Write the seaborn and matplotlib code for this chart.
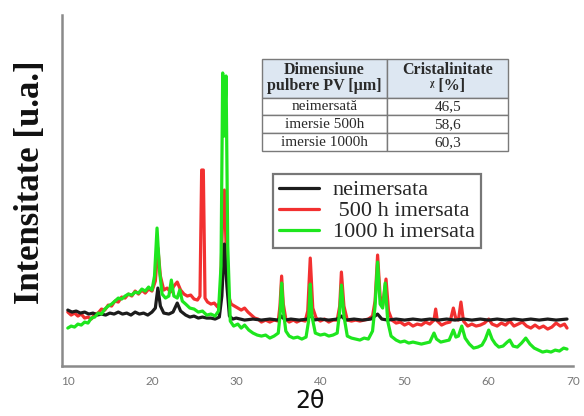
import matplotlib
matplotlib.use("Agg")
import matplotlib.pyplot as plt
import seaborn as sns
import pandas as pd

# --- XRD patterns (2-theta in degrees, intensity in arbitrary units) ---
theta_neimersata = [10, 10.5, 11, 11.5, 12, 12.5, 13, 13.5, 14, 14.5, 15, 15.5, 16, 16.5, 17, 17.5,
                    18, 18.5, 19, 19.5, 20, 20.4, 20.7, 21.0, 21.4, 22, 22.5, 23, 23.4, 24, 24.5, 25,
                    25.5, 26, 26.5, 27, 27.5, 28, 28.3, 28.6, 28.9, 29.2, 29.6, 30, 31, 32, 33, 34, 35,
                    35.4, 35.8, 36.5, 37.5, 38.5, 38.8, 39.2, 40, 41, 42, 42.5, 43, 44, 45, 46, 46.8,
                    47.3, 48, 49, 50, 51, 52, 53, 54, 55, 56, 57, 58, 59, 60, 61, 62, 63, 64, 65, 66,
                    67, 68, 69.3]
int_neimersata = [56, 54, 55, 53, 54, 52, 53, 51, 52, 51, 53, 52, 54, 52, 53, 51,
                  54, 52, 53, 51, 54, 58, 78, 60, 53, 52, 54, 63, 55, 51, 49, 50,
                  48, 49, 48, 48, 47, 49, 70, 122, 80, 50, 47, 48, 46, 47, 46, 47, 46,
                  50, 46, 47, 46, 47, 52, 46, 47, 46, 47, 50, 46, 47, 46, 47, 52,
                  47, 46, 47, 46, 47, 46, 47, 46, 47, 46, 47, 46, 47, 46, 47, 46, 47, 46, 47, 46,
                  47, 46, 47]

theta_500h = [10, 10.4, 10.8, 11.2, 11.6, 12, 12.4, 12.8, 13.2, 13.6, 14, 14.4, 14.8, 15.2, 15.6, 16,
              16.4, 16.8, 17.2, 17.6, 18, 18.4, 18.8, 19.2, 19.6, 20.0, 20.4, 20.7, 21.0, 21.4, 21.8,
              22.2, 22.6, 23.0, 23.4, 23.8, 24.2, 24.6, 25, 25.4, 25.7, 25.9, 26.1, 26.3, 26.6, 27,
              27.4, 27.8, 28.1, 28.4, 28.6, 28.8, 29.1, 29.4, 29.8, 30.2, 30.6, 31.0, 31.4, 31.8,
              32.2, 32.6, 33, 33.5, 34, 34.5, 35, 35.2, 35.4, 35.6, 35.9, 36.3, 36.8, 37.2, 37.7,
              38.2, 38.5, 38.8, 39.1, 39.5, 40, 40.5, 41, 41.5, 42, 42.3, 42.5, 42.8, 43.2, 43.7,
              44.2, 44.7, 45.2, 45.7, 46.2, 46.5, 46.8, 47.1, 47.4, 47.8, 48.1, 48.5, 49, 49.5, 50,
              50.5, 51, 51.5, 52, 52.5, 53, 53.5, 53.7, 53.9, 54.4, 54.9, 55.4, 55.8, 56.1, 56.4,
              56.7, 57.0, 57.5, 58, 58.5, 59, 59.5, 60, 60.4, 61, 61.5, 62, 62.5, 63, 63.5, 64,
              64.5, 65, 65.5, 66, 66.5, 67, 67.5, 68, 68.5, 69, 69.3]
int_500h = [54, 51, 53, 50, 52, 48, 49, 47, 52, 53, 57, 56, 61, 60, 65, 64,
            69, 68, 72, 70, 75, 72, 76, 73, 77, 75, 85, 118, 90, 76, 78,
            74, 80, 84, 76, 72, 70, 71, 67, 66, 70, 196, 196, 68, 64, 62,
            63, 59, 65, 150, 176, 120, 70, 62, 60, 58, 56, 58, 54, 51,
            48, 47, 44, 46, 44, 46, 45, 60, 90, 62, 47, 44, 46, 44, 46,
            45, 55, 108, 58, 48, 45, 47, 44, 46, 46, 60, 94, 60, 46, 45,
            46, 45, 46, 47, 50, 65, 111, 70, 60, 87, 55, 46, 43, 44, 41,
            43, 40, 42, 41, 44, 42, 46, 57, 45, 41, 43, 44, 58, 47, 46,
            64, 45, 40, 42, 40, 41, 43, 47, 42, 40, 43, 41, 45, 40, 42, 44,
            40, 38, 41, 38, 40, 37, 39, 43, 40, 42, 38]

theta_1000h = [10, 10.4, 10.8, 11.2, 11.6, 12, 12.4, 12.8, 13.2, 13.6, 14, 14.4, 14.8, 15.2, 15.6, 16,
               16.4, 16.8, 17.2, 17.6, 18, 18.4, 18.8, 19.2, 19.6, 20.0, 20.3, 20.6, 20.9, 21.2, 21.6,
               22.0, 22.3, 22.6, 23.0, 23.3, 23.6, 24, 24.5, 25, 25.5, 26, 26.5, 27, 27.5, 27.9, 28.2,
               28.4, 28.6, 28.8, 29.0, 29.3, 29.7, 30.2, 30.6, 31, 31.5, 32, 32.5, 33, 33.5, 34, 34.5,
               35, 35.2, 35.4, 35.6, 35.9, 36.3, 36.8, 37.3, 37.8, 38.3, 38.6, 38.8, 39.0, 39.4, 40,
               40.5, 41, 41.5, 42, 42.3, 42.5, 42.8, 43.2, 43.7, 44.2, 44.7, 45.2, 45.7, 46.2, 46.5,
               46.8, 47.1, 47.4, 47.7, 48.0, 48.4, 49, 49.5, 50, 50.5, 51, 51.5, 52, 52.5, 53, 53.5,
               53.8, 54.3, 54.8, 55.3, 55.8, 56.1, 56.4, 56.8, 57.2, 57.7, 58.2, 58.7, 59.2, 59.6, 60,
               60.4, 60.8, 61.2, 61.7, 62.2, 62.5, 62.9, 63.4, 63.9, 64.4, 64.9, 65.4, 65.9, 66.4,
               66.9, 67.4, 67.9, 68.4, 68.9, 69.3]
int_1000h = [38, 40, 39, 42, 41, 44, 43, 48, 49, 53, 52, 57, 60, 62, 65, 68,
             67, 70, 72, 71, 74, 73, 77, 75, 79, 76, 90, 138, 95, 72, 68,
             70, 86, 70, 68, 76, 65, 62, 58, 57, 54, 55, 51, 52, 50, 55, 100,
             293, 230, 290, 120, 45, 40, 42, 38, 41, 36, 33, 31, 30, 31, 28, 30,
             33, 50, 83, 55, 35, 30, 28, 29, 27, 29, 45, 82, 50, 33, 31,
             32, 30, 31, 33, 55, 81, 50, 30, 28, 27, 26, 28, 27, 35, 60,
             104, 62, 58, 83, 45, 30, 26, 24, 25, 23, 24, 23, 22, 23, 24, 33,
             27, 24, 25, 26, 36, 29, 30, 40, 28, 22, 18, 19, 21, 27, 36,
             27, 22, 19, 20, 24, 26, 20, 19, 23, 28, 22, 18, 16, 14,
             15, 14, 16, 15, 18, 17]

series_labels = ["neimersata", " 500 h imersata", "1000 h imersata"]
series_colors = ["#1c1c1c", "#f23030", "#1ee61e"]

# --- crystallinity table ---
table_header = ["Dimensiune\npulbere PV [µm]", "Cristalinitate\nᵡ [%]"]
table_rows = ["neimersată", "imersie 500h", "imersie 1000h"]
crystallinity = [46.5, 58.6, 60.3]

sns.set_style("white")
plt.rcParams["font.family"] = ["DejaVu Sans"]

fig = plt.figure(figsize=(5.84, 4.16), dpi=100)
ax = fig.add_axes([0.106, 0.120, 0.875, 0.844])

frames = [
    pd.DataFrame({"theta": theta_neimersata, "intensity": int_neimersata}),
    pd.DataFrame({"theta": theta_500h, "intensity": int_500h}),
    pd.DataFrame({"theta": theta_1000h, "intensity": int_1000h}),
]
zorders = [2.5, 2, 3]
handles = []
for df, lab, col, z in zip(frames, series_labels, series_colors, zorders):
    sns.lineplot(data=df, x="theta", y="intensity", ax=ax, color=col, lw=2.3,
                 estimator=None, sort=True, label=lab, zorder=z)
    handles.append(ax.lines[-1])

ax.set_xlim(9.3, 70)
ax.set_ylim(0, 351)

# axes styling
for side in ["top", "right"]:
    ax.spines[side].set_visible(False)
for side in ["left", "bottom"]:
    ax.spines[side].set_color("#8a8a8a")
    ax.spines[side].set_linewidth(1.8)

ax.set_yticks([])
ax.set_xticks(range(10, 71, 10))
ax.set_xticks(range(15, 70, 10), minor=True)
ax.tick_params(axis="x", which="major", direction="out", length=4, width=1.2,
               color="#8a8a8a", labelsize=8.5, labelcolor="#777777", pad=3)
ax.tick_params(axis="x", which="minor", direction="out", length=2, width=1.2, color="#8a8a8a")
for t in ax.get_xticklabels():
    t.set_fontfamily("Lato")

ax.set_xlabel("2θ", fontsize=17, family="DejaVu Sans", color="#111111")
ax.xaxis.set_label_coords(0.485, -0.065)
ax.set_ylabel("Intensitate [u.a.]", fontsize=25, fontweight="bold",
              family="Liberation Serif", color="#111111")
ax.yaxis.set_label_coords(-0.03, 0.524)

leg = ax.legend(handles=handles, labels=series_labels, loc="upper left",
                bbox_to_anchor=(0.413, 0.546), frameon=True, fancybox=False,
                prop={"family": "Liberation Serif", "size": 16},
                handlelength=1.8, handletextpad=0.65, labelspacing=0.02,
                borderpad=0.25, borderaxespad=0.0)
leg.get_frame().set_edgecolor("#555555")
leg.get_frame().set_linewidth(1.6)
for h in leg.legend_handles:
    h.set_linewidth(2.3)

cell_text = [[r, f"{v:.1f}".replace(".", ",")] for r, v in zip(table_rows, crystallinity)]
tbl = ax.table(cellText=cell_text, colLabels=table_header, cellLoc="center",
               bbox=[0.391, 0.612, 0.482, 0.262], zorder=5)
tbl.auto_set_font_size(False)
for (r, c), cell in tbl.get_celld().items():
    cell.set_edgecolor("#7a7a7a")
    cell.set_linewidth(1.0)
    cell.set_height(2.15 if r == 0 else 1.0)
    cell.set_width(0.51 if c == 0 else 0.49)
    txt = cell.get_text()
    txt.set_color("#2a2a2a")
    if r == 0:
        cell.set_facecolor("#dde7f2")
        txt.set_fontweight("bold")
        txt.set_fontsize(11.5)
        txt.set_fontfamily(["Liberation Serif", "DejaVu Serif"])
        txt.set_linespacing(1.0)
    else:
        cell.set_facecolor("white")
        txt.set_fontsize(11)
        txt.set_fontfamily("Liberation Serif")

fig.savefig("out.png", dpi=100)
